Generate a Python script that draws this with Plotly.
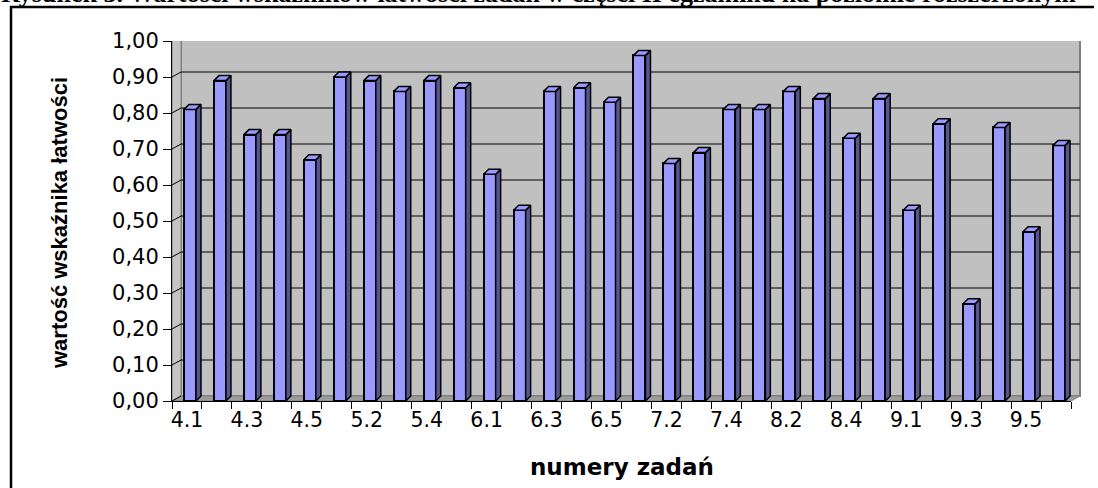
import plotly.graph_objects as go

# ---- data ----
categories = ["4.1", "4.2", "4.3", "4.4", "4.5", "5.1", "5.2", "5.3", "5.4", "5.5",
              "6.1", "6.2", "6.3", "6.4", "6.5", "7.1", "7.2", "7.3", "7.4", "8.1",
              "8.2", "8.3", "8.4", "8.5", "9.1", "9.2", "9.3", "9.4", "9.5", "9.6"]
values = [0.81, 0.89, 0.74, 0.74, 0.67, 0.90, 0.89, 0.86, 0.89, 0.87,
          0.63, 0.53, 0.86, 0.87, 0.83, 0.96, 0.66, 0.69, 0.81, 0.81,
          0.86, 0.84, 0.73, 0.84, 0.53, 0.77, 0.27, 0.76, 0.47, 0.71]
y_ticks = [0.0, 0.1, 0.2, 0.3, 0.4, 0.5, 0.6, 0.7, 0.8, 0.9, 1.0]

title_text = "Rysunek 3. Wartości wskaźników łatwości zadań w części II egzaminu na poziomie rozszerzonym"
y_title = "wartość wskaźnika łatwości"
x_title = "numery zadań"

# ---- layout geometry (pixels) ----
W, H = 1098, 488
ML, MR, MT, MB = 172, 27, 41, 87
PW, PH = W - ML - MR, H - MT - MB
DXp = 9 / PW        # 3D depth offset of back wall, x (paper units)
DY = 5 / PH         # 3D depth offset, y (data units, range 0..1)
CAT_PX = PW / len(categories)
BAR_OFF, BAR_W = -0.1, 0.4
DEPTH = 5 / CAT_PX  # bar depth in category units

def px_x(p):
    return (p - ML) / PW

def px_y(p):
    return (H - MB - p) / PH

FRONT = "#9999FF"
SIDE = "#55558F"

fig = go.Figure()

# front faces (category axis)
fig.add_trace(go.Bar(x=categories, y=values, offset=BAR_OFF, width=BAR_W,
                     marker=dict(color=FRONT, line=dict(color="black", width=2)),
                     showlegend=False))

# side and top faces (linear overlay axis, same positions)
side_x, side_y, top_x, top_y = [], [], [], []
for i, v in enumerate(values):
    l = i + BAR_OFF
    r = l + BAR_W
    side_x += [r, r, r + DEPTH, r + DEPTH, r, None]
    side_y += [0, v, v + DY, DY, 0, None]
    top_x += [l, l + DEPTH, r + DEPTH, r, l, None]
    top_y += [v, v + DY, v + DY, v, v, None]

fig.add_trace(go.Scatter(x=side_x, y=side_y, xaxis="x2", mode="lines", fill="toself",
                         fillcolor=SIDE, line=dict(color="black", width=1.5),
                         hoverinfo="skip", showlegend=False))
fig.add_trace(go.Scatter(x=top_x, y=top_y, xaxis="x2", mode="lines", fill="toself",
                         fillcolor=FRONT, line=dict(color="black", width=1.5),
                         hoverinfo="skip", showlegend=False))

shapes = []
# back wall
shapes.append(dict(type="rect", xref="paper", yref="y", x0=DXp, x1=1 + DXp, y0=DY, y1=1 + DY,
                   fillcolor="#C0C0C0", line=dict(color="#808080", width=2), layer="below"))
# left wall
shapes.append(dict(type="path", xref="paper", yref="y",
                   path=f"M 0,0 L 0,1 L {DXp},{1+DY} L {DXp},{DY} Z",
                   fillcolor="#C4C4C4", line=dict(color="#808080", width=1), layer="below"))
# floor
shapes.append(dict(type="path", xref="paper", yref="y",
                   path=f"M 0,0 L {DXp},{DY} L {1+DXp},{DY} L 1,0 Z",
                   fillcolor="#9C9C9C", line=dict(color="#808080", width=1), layer="below"))
# gridlines on back wall + diagonal ticks on left wall
for t in y_ticks[1:-1]:
    shapes.append(dict(type="line", xref="paper", yref="y", x0=DXp, x1=1 + DXp,
                       y0=t + DY, y1=t + DY, line=dict(color="black", width=1), layer="below"))
for t in y_ticks[:-1]:
    shapes.append(dict(type="line", xref="paper", yref="y", x0=0, x1=DXp,
                       y0=t, y1=t + DY, line=dict(color="black", width=1), layer="below"))
# outer frame (open at right/bottom, cut by picture edge)
shapes.append(dict(type="path", xref="paper", yref="paper",
                   path=f"M {px_x(11)},{px_y(500)} L {px_x(11)},{px_y(7)} L {px_x(1094)},{px_y(7)}",
                   line=dict(color="black", width=2.5)))

annotations = [
    dict(text=title_text, xref="paper", yref="paper", x=px_x(-1), y=px_y(10),
         xanchor="left", yanchor="bottom", showarrow=False,
         font=dict(family="Liberation Serif", size=26, color="black", weight="bold")),
    dict(text=y_title, xref="paper", yref="paper", x=px_x(59), y=px_y(223),
         xanchor="center", yanchor="middle", textangle=-90, showarrow=False,
         font=dict(family="Liberation Sans", size=22, color="black", weight="bold")),
    dict(text=x_title, xref="paper", yref="paper", x=px_x(622), y=px_y(467),
         xanchor="center", yanchor="middle", showarrow=False,
         font=dict(family="DejaVu Sans", size=23, color="black", weight="bold")),
]

fig.update_layout(
    width=W, height=H,
    margin=dict(l=ML, r=MR, t=MT, b=MB, pad=0),
    paper_bgcolor="white", plot_bgcolor="rgba(0,0,0,0)",
    barmode="overlay", bargap=0,
    separators=", ",
    shapes=shapes, annotations=annotations,
    showlegend=False,
    xaxis=dict(type="category", range=[-0.5, len(categories) - 0.5],
               tickson="boundaries", ticks="outside", ticklen=7, tickcolor="black",
               ticklabelstep=2, tickangle=0, showgrid=False, zeroline=False,
               showline=True, linecolor="black", linewidth=1,
               tickfont=dict(family="DejaVu Sans", size=20.5, color="black")),
    xaxis2=dict(overlaying="x", range=[-0.5, len(categories) - 0.5], visible=False,
                showgrid=False, zeroline=False),
    yaxis=dict(range=[0, 1], tickvals=y_ticks, tickformat=".2f",
               ticks="outside", ticklen=8, tickcolor="black",
               showgrid=False, zeroline=False,
               showline=True, linecolor="black", linewidth=1,
               tickfont=dict(family="DejaVu Sans", size=21, color="black")),
)

fig.write_html("out.html", config={"displayModeBar": False},
               post_script="document.body.style.margin='0';document.body.style.overflow='hidden';")
